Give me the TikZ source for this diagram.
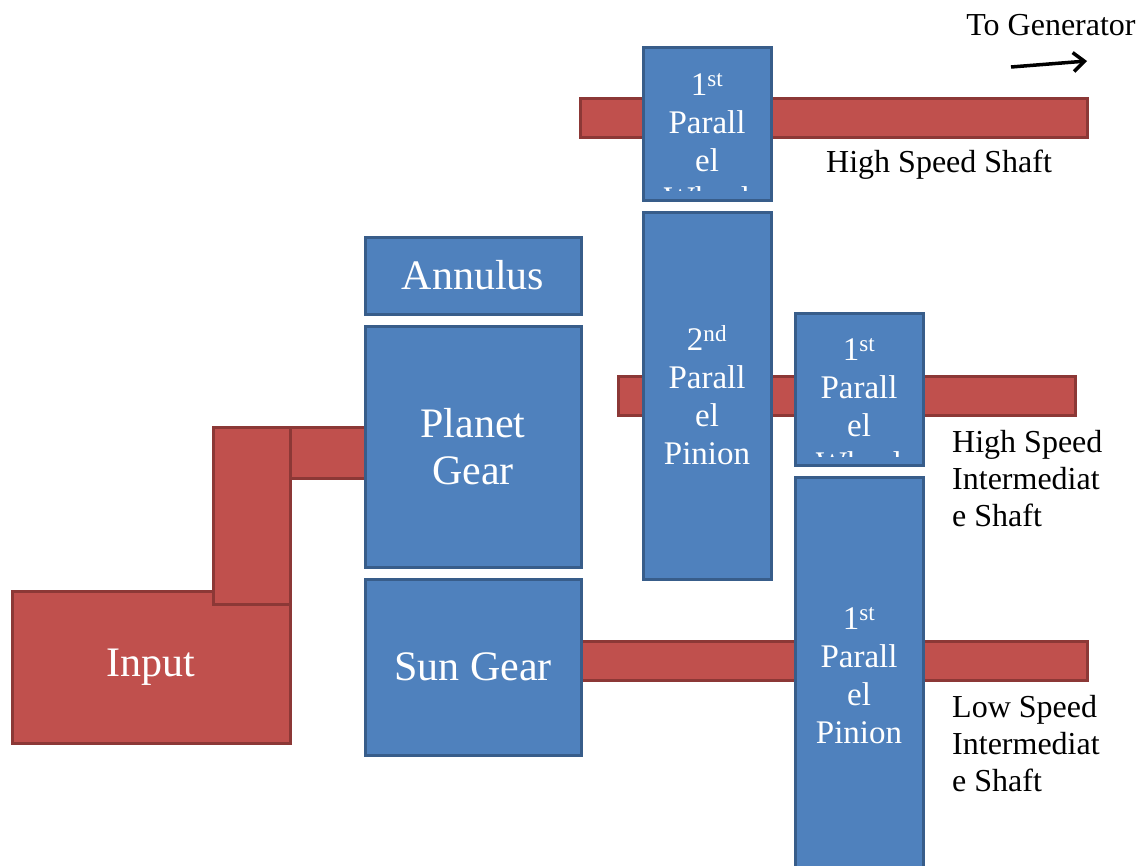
\documentclass[tikz,border=0pt]{standalone}
\usepackage{fontspec}
\setmainfont{Liberation Serif}
\usetikzlibrary{positioning, arrows.meta}
\definecolor{shaftred}{HTML}{C0504D}
\definecolor{shaftedge}{HTML}{8C3836}
\definecolor{gearblue}{HTML}{4F81BD}
\definecolor{gearedge}{HTML}{385D8A}
\tikzset{
  shaftbox/.style={
    draw=shaftedge, line width=3pt, fill=shaftred,
    inner sep=0pt, text=white, align=center
  },
  gearbox/.style={
    draw=gearedge, line width=3pt, fill=gearblue,
    inner sep=0pt, minimum width=216pt, text=white, align=center,
    font=\fontsize{42}{47}\selectfont
  },
  gearcol/.style={
    gearbox, minimum width=128pt,
    font=\fontsize{33}{38}\selectfont
  },
  geartext/.style={text=white, align=center, inner sep=0pt,
    font=\fontsize{33}{38}\selectfont},
  signal/.style={-{Straight Barb[length=11pt, width=19pt]}, line width=3.5pt, black},
  lbl/.style={font=\fontsize{32}{37}\selectfont, align=left, inner sep=0pt}
}

\begin{document}
\begin{tikzpicture}[x=1pt, y=-1pt]
\useasboundingbox (0,0) rectangle (1147,865);

% Input side
\node[shaftbox, minimum width=278pt, minimum height=152pt, font=\fontsize{42}{47}\selectfont] (input) at (151,667) {Input};
\node[shaftbox, minimum width=101pt, minimum height=51pt] (carrier) at (314.5,452.5) {};
\node[shaftbox, minimum width=77pt, minimum height=177pt] (arm) at (251.5,515.5) {};

% Shafts
\node[shaftbox, minimum width=507pt, minimum height=39pt] (hss) at (833.5,117.5) {};
\node[shaftbox, minimum width=457pt, minimum height=39pt] (hsis) at (846.5,395.5) {};
\node[shaftbox, minimum width=506pt, minimum height=39pt] (lsis) at (834,660.5) {};

% Planetary stage
\node[gearbox, minimum height=77pt] (annulus) at (473,275.5) {Annulus};
\node[gearbox, minimum height=241pt] (planet) at (473,446.5) {Planet\\Gear};
\node[gearbox, minimum height=176pt] (sun) at (473,667) {Sun Gear};

% Parallel stages
\node[gearcol, minimum height=367pt] (pinion2) at (707,395.5) {2\textsuperscript{nd}\\Parall\\el\\Pinion};
\node[gearcol, minimum height=398pt] (pinion1) at (859,676) {1\textsuperscript{st}\\Parall\\el\\Pinion};

\node[gearcol, minimum height=153pt] (wheeltop) at (707,123.5) {};
\begin{scope}
  \clip (wheeltop.north west) rectangle ([yshift=11pt]wheeltop.south east);
  \node[geartext] (wheeltoptext) at (707,142) {1\textsuperscript{st}\\Parall\\el\\Wheel};
\end{scope}

\node[gearcol, minimum height=152pt] (wheelmid) at (859,389) {};
\begin{scope}
  \clip (wheelmid.north west) rectangle ([yshift=10pt]wheelmid.south east);
  \node[geartext] (wheelmidtext) at (859,407) {1\textsuperscript{st}\\Parall\\el\\Wheel};
\end{scope}

% Labels
\node[lbl, anchor=west] (hsslbl) at (826,165) {High Speed Shaft};
\node[lbl, anchor=west] (hsislbl) at (952,479) {High Speed\\Intermediat\\e Shaft};
\node[lbl, anchor=west] (lsislbl) at (952,744) {Low Speed\\Intermediat\\e Shaft};
\node[lbl] (genlbl) at (1051,25) {To Generator};

% Output arrow
\coordinate (genfrom) at (1011,67);
\coordinate (gento) at (1087,61);
\draw[signal] (genfrom) -- (gento);

\end{tikzpicture}
\end{document}
